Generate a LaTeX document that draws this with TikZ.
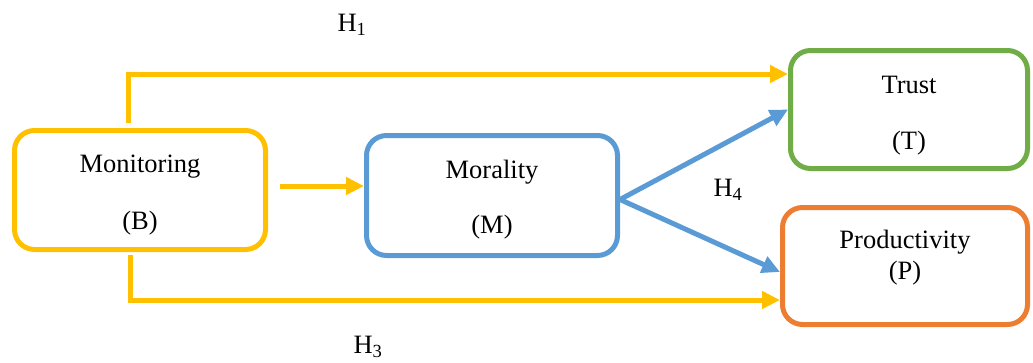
\documentclass[tikz,border=0pt]{standalone}
\usepackage{fontspec}
\setmainfont{Liberation Serif}
\usetikzlibrary{arrows.meta}
\definecolor{cyel}{HTML}{FFC000}
\definecolor{cblu}{HTML}{5B9BD5}
\definecolor{cgrn}{HTML}{70AD47}
\definecolor{corg}{HTML}{ED7D31}
\begin{document}
\begin{tikzpicture}[x=1pt,y=-1pt,
  every node/.style={font=\fontsize{26.5}{32}\selectfont},
  var/.style={draw, line width=5pt, rounded corners=20pt, fill=white, inner sep=0pt, align=center},
  conn/.style={line width=5pt, -{Triangle[length=18pt,width=17pt]}},
  hlab/.style={inner sep=0pt}]
\useasboundingbox (0,0) rectangle (1033,362);
\node[var, draw=cyel, minimum width=251pt, minimum height=119pt] (B) at (140,190)
  {\raisebox{-11pt}[0pt][0pt]{\begin{tabular}{@{}c@{}}Monitoring\\[25pt](B)\end{tabular}}};
\node[var, draw=cblu, minimum width=251pt, minimum height=120pt] (M) at (492,195.5)
  {\raisebox{-10pt}[0pt][0pt]{\begin{tabular}{@{}c@{}}Morality\\[23pt](M)\end{tabular}}};
\node[var, draw=cgrn, minimum width=237pt, minimum height=118pt] (T) at (909,109.5)
  {\raisebox{-12pt}[0pt][0pt]{\begin{tabular}{@{}c@{}}Trust\\[24pt](T)\end{tabular}}};
\node[var, draw=corg, minimum width=245pt, minimum height=117pt] (P) at (905,266)
  {\raisebox{2pt}[0pt][0pt]{\begin{tabular}{@{}c@{}}Productivity\\[-1pt](P)\end{tabular}}};
\coordinate (h1s) at (128,123);
\coordinate (bms) at (280,186);
\coordinate (h3s) at (130,255);
\draw[conn, cyel] (h1s) |- ([yshift=35.5pt]T.west);
\draw[conn, cyel] (bms) -- (M.west |- bms);
\draw[conn, cyel] (h3s) |- ([yshift=-34pt]P.west);
\draw[conn, cblu] ([yshift=-4pt]M.east) -- (T.west);
\draw[conn, cblu] ([yshift=-4pt]M.east) -- ([yshift=-6pt]P.west);
\node[hlab] (H1) at (352,25) {H\textsubscript{1}};
\node[hlab] (H3) at (368,347) {H\textsubscript{3}};
\node[hlab] (H4) at (728,190) {H\textsubscript{4}};
\end{tikzpicture}
\end{document}
